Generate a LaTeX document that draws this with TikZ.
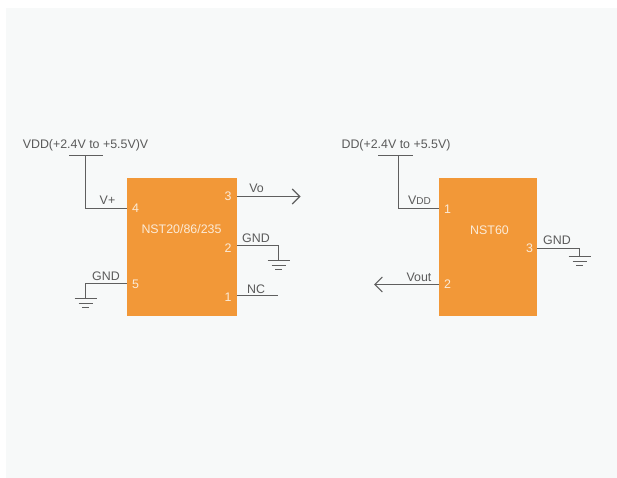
\documentclass[tikz,border=0pt]{standalone}
\usepackage{fontspec}
\setmainfont{Liberation Sans}
\usetikzlibrary{arrows.meta}
\definecolor{panel}{HTML}{F7F9F9}
\definecolor{chip}{HTML}{F29838}
\definecolor{wire}{HTML}{5F5F5F}
\definecolor{txt}{HTML}{5A5A5A}
\definecolor{pintxt}{HTML}{FBEBD8}
\tikzset{
  x=1pt,y=-1pt,
  chipbox/.style={fill=chip,draw=none,inner sep=0pt,outer sep=0pt,anchor=north west},
  wirepath/.style={draw=wire,line width=1.1pt},
  thinbar/.style={draw=wire,line width=1pt},
  arrowwire/.style={wirepath,-{Straight Barb[length=7.5pt,width=15pt,line width=1.1pt]}},
  lbl/.style={font=\fontsize{12.4}{14}\selectfont,text=txt,inner sep=0pt},
  pinlbl/.style={font=\fontsize{12.4}{14}\selectfont,text=pintxt,inner sep=0pt},
  pics/earth/.style={code={
    \draw[thinbar] (-11,0) -- (11,0);
    \draw[thinbar] (-7,4.5) -- (7,4.5);
    \draw[thinbar] (-3.5,9) -- (3.5,9);
  }}
}
\begin{document}
\begin{tikzpicture}
\useasboundingbox (0,0) rectangle (617,478);
\fill[panel] (6,8) rectangle (617,478);

\node[chipbox,minimum width=110pt,minimum height=138pt] (chipA) at (127,178) {};
\node[chipbox,minimum width=98pt,minimum height=138pt] (chipB) at (439,178) {};

\node[pinlbl] (nameA) at (181.5,229.5) {NST20/86/235};
\node[pinlbl] (nameB) at (489.5,230) {NST60};

\node[pinlbl] (a4) at (135.5,208.5) {4};
\node[pinlbl] (a5) at (135.5,284) {5};
\node[pinlbl] (a3) at (228,196) {3};
\node[pinlbl] (a2) at (228,248) {2};
\node[pinlbl] (a1) at (228,297) {1};
\node[pinlbl] (b1) at (447.5,209) {1};
\node[pinlbl] (b2) at (447.5,284) {2};
\node[pinlbl] (b3) at (529.5,248) {3};

\node[lbl] (vddA) at (85.5,145) {VDD(+2.4V to +5.5V)V};
\node[lbl] (vplus) at (107.5,200) {V+};
\node[lbl] (gnd5) at (106,276) {GND};
\node[lbl] (vo) at (256.5,188) {Vo};
\node[lbl] (gnd2) at (256,238) {GND};
\node[lbl] (nc) at (256,289) {NC};
\node[lbl] (vddB) at (396,145) {DD(+2.4V to +5.5V)};
\node[lbl,anchor=east] (vddpin) at (431,200) {V{\fontsize{10}{12}\selectfont DD}};
\node[lbl] (vout) at (419,277) {Vout};
\node[lbl] (gnd3) at (557,240) {GND};

% free wire ends
\coordinate (barAl) at (69,155.5);
\coordinate (barAr) at (103,155.5);
\coordinate (barAm) at (85.5,155.5);
\coordinate (barBl) at (378,155.5);
\coordinate (barBr) at (413,155.5);
\coordinate (barBm) at (398.5,155.5);
\coordinate (voEnd) at (300.5,196.5);
\coordinate (voutEnd) at (374,284.5);
\coordinate (ncEnd) at (278,295.5);
\coordinate (earthA2) at (278.5,260.5);
\coordinate (earthA5) at (85.5,298.5);
\coordinate (earthB3) at (579.5,256.5);

\draw[thinbar] (barAl) -- (barAr);
\draw[thinbar] (barBl) -- (barBr);
\draw[wirepath] (barAm) |- (chipA.west |- 0,208.5);
\draw[wirepath] (barBm) |- (chipB.west |- 0,208.5);
\draw[arrowwire] (chipA.east |- voEnd) -- (voEnd);
\draw[arrowwire] (chipB.west |- voutEnd) -- (voutEnd);
\draw[wirepath] (chipA.east |- ncEnd) -- (ncEnd);
\draw[wirepath] (chipA.east |- 0,245.5) -| (earthA2);
\draw[wirepath] (chipA.west |- 0,283.5) -| (earthA5);
\draw[wirepath] (chipB.east |- 0,248.5) -| (earthB3);

\pic at (earthA2) {earth};
\pic at (earthA5) {earth};
\pic at (earthB3) {earth};
\end{tikzpicture}
\end{document}
